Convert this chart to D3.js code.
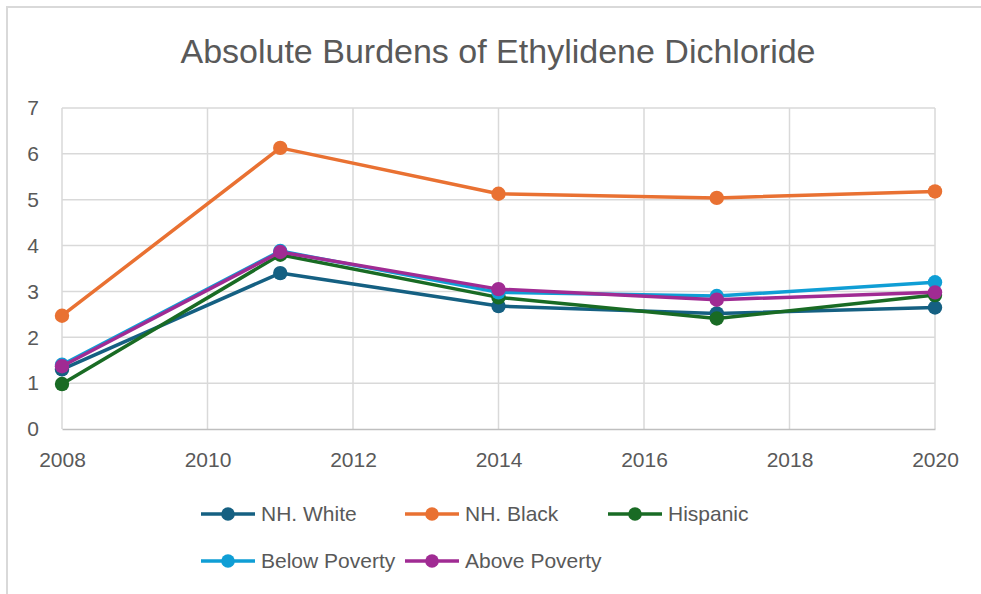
<!DOCTYPE html>
<html>
<head>
<meta charset="utf-8">
<script src="https://cdn.jsdelivr.net/npm/d3@7"></script>
<style>
  html, body { margin: 0; padding: 0; background: #fff; }
  svg { display: block; }
</style>
</head>
<body>
<svg id="chart" width="981" height="594"></svg>
<script>
// Survey years and absolute burden per group
const years = [2008, 2011, 2014, 2017, 2020];
const nhWhite      = [1.30, 3.40, 2.68, 2.52, 2.65];
const nhBlack      = [2.47, 6.13, 5.13, 5.04, 5.18];
const hispanic     = [0.98, 3.80, 2.87, 2.41, 2.92];
const belowPoverty = [1.40, 3.88, 2.98, 2.90, 3.20];
const abovePoverty = [1.37, 3.86, 3.05, 2.82, 2.98];

const seriesNames  = ["NH. White", "NH. Black", "Hispanic", "Below Poverty", "Above Poverty"];
const seriesColors = ["#156082", "#E97132", "#196B24", "#0F9ED5", "#A02B93"];
const xTicks = [2008, 2010, 2012, 2014, 2016, 2018, 2020];
const yTicks = [0, 1, 2, 3, 4, 5, 6, 7];
const title = "Absolute Burdens of Ethylidene Dichloride";

const series = [nhWhite, nhBlack, hispanic, belowPoverty, abovePoverty].map((vals, i) => ({
  name: seriesNames[i],
  color: seriesColors[i],
  points: years.map((y, j) => ({ year: y, value: vals[j] }))
}));

const svg = d3.select("#chart");
const sans = "'Liberation Sans', Arial, sans-serif";
const textColor = "#595959";

// outer chart frame
svg.append("rect")
  .attr("x", 7).attr("y", 7).attr("width", 990).attr("height", 600)
  .attr("fill", "#fff").attr("stroke", "#d9d9d9").attr("stroke-width", 2);

svg.append("text")
  .attr("x", 498).attr("y", 63)
  .attr("text-anchor", "middle")
  .attr("font-family", sans)
  .attr("font-size", 34)
  .attr("fill", textColor)
  .text(title);

const x = d3.scaleLinear().domain([2008, 2020]).range([62, 935]);
const y = d3.scaleLinear().domain([0, 7]).range([429, 108]);

// gridlines
const grid = svg.append("g");
grid.selectAll("line.h").data(yTicks.filter(t => t > 0)).join("line")
  .attr("x1", x(2008)).attr("x2", x(2020))
  .attr("y1", d => y(d)).attr("y2", d => y(d))
  .attr("stroke", "#d9d9d9").attr("stroke-width", 1.5);
grid.selectAll("line.v").data(xTicks).join("line")
  .attr("x1", d => x(d)).attr("x2", d => x(d))
  .attr("y1", y(7)).attr("y2", y(0))
  .attr("stroke", "#d9d9d9").attr("stroke-width", 1.5);

// x axis
const xAxis = svg.append("g")
  .attr("transform", `translate(0,${y(0)})`)
  .call(d3.axisBottom(x).tickValues(xTicks).tickFormat(d3.format("d")).tickSize(0).tickPadding(23));
xAxis.select(".domain").attr("stroke", "#bfbfbf").attr("stroke-width", 1.5);
xAxis.selectAll("text")
  .attr("font-family", sans)
  .attr("font-size", 21).attr("fill", textColor);

// y axis
const yAxis = svg.append("g")
  .attr("transform", `translate(${x(2008)},0)`)
  .call(d3.axisLeft(y).tickValues(yTicks).tickFormat(d3.format("d")).tickSize(0).tickPadding(23));
yAxis.select(".domain").remove();
yAxis.selectAll("text")
  .attr("font-family", sans)
  .attr("font-size", 21).attr("fill", textColor);

// series lines and markers
const line = d3.line().x(d => x(d.year)).y(d => y(d.value));
const sg = svg.append("g").selectAll("g").data(series).join("g");
sg.append("path")
  .attr("d", d => line(d.points))
  .attr("fill", "none")
  .attr("stroke", d => d.color)
  .attr("stroke-width", 3.5)
  .attr("stroke-linejoin", "round");
sg.selectAll("circle").data(d => d.points.map(p => ({ ...p, color: d.color }))).join("circle")
  .attr("cx", d => x(d.year)).attr("cy", d => y(d.value))
  .attr("r", 7.2).attr("fill", d => d.color);

// legend
const legendPos = [[201, 514], [405, 514], [608, 514], [201, 561], [405, 561]];
const lg = svg.append("g").selectAll("g").data(series).join("g")
  .attr("transform", (d, i) => `translate(${legendPos[i][0]},${legendPos[i][1]})`);
lg.append("line")
  .attr("x1", 0).attr("x2", 54).attr("y1", 0).attr("y2", 0)
  .attr("stroke", d => d.color).attr("stroke-width", 3.5);
lg.append("circle").attr("cx", 27).attr("cy", 0).attr("r", 6.8).attr("fill", d => d.color);
lg.append("text")
  .attr("x", 60).attr("y", 0).attr("dy", "0.35em")
  .attr("font-family", sans).attr("font-size", 21)
  .attr("fill", textColor)
  .text(d => d.name);
</script>
</body>
</html>
